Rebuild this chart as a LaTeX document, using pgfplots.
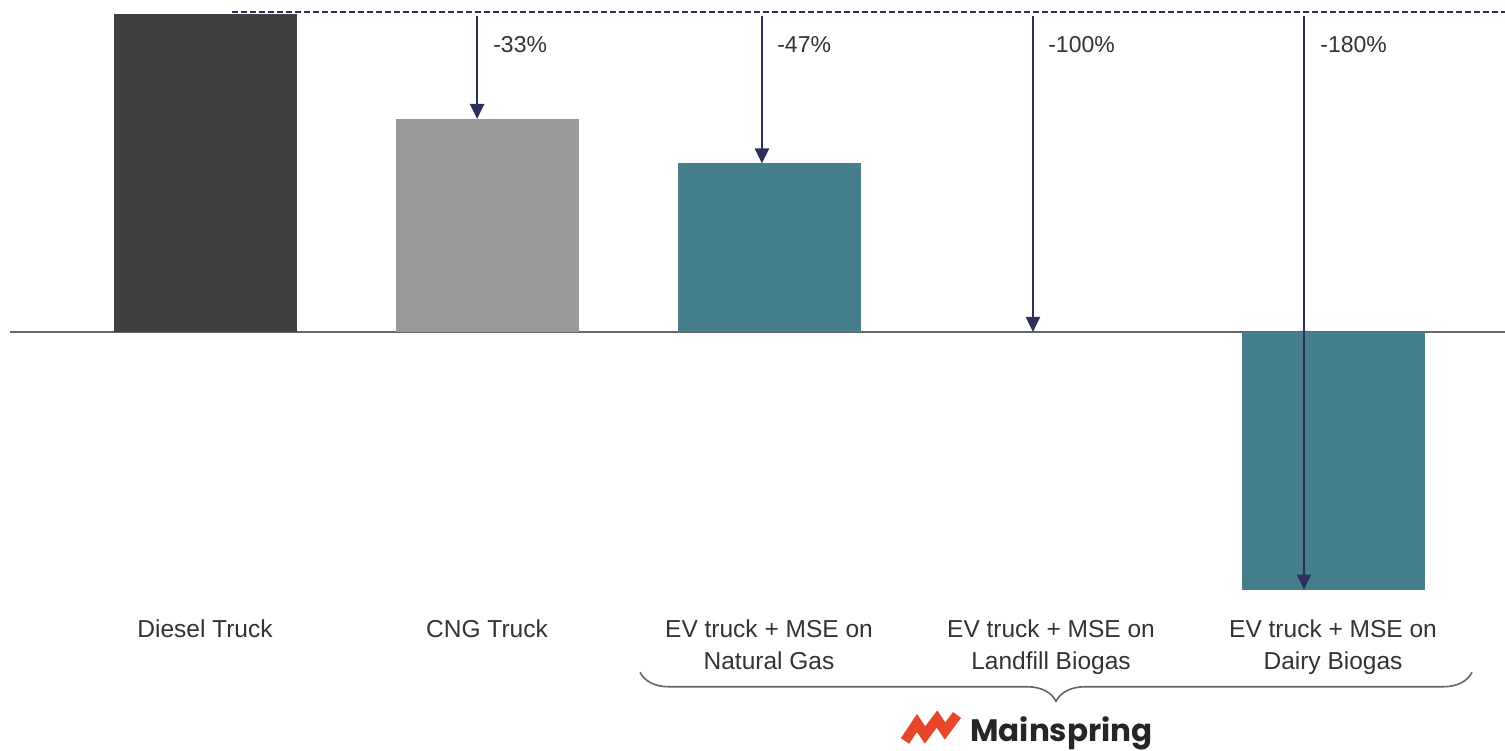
\documentclass[border=0pt]{standalone}
\usepackage{fontspec}
\setmainfont{Liberation Sans}
\newfontfamily\logofont{Poppins}
\usepackage{pgfplots}
\pgfplotsset{compat=1.18}
\usetikzlibrary{arrows.meta,decorations.pathreplacing}
\definecolor{diesel}{HTML}{404040}
\definecolor{cng}{HTML}{999999}
\definecolor{tealbar}{HTML}{457F8B}
\definecolor{navy}{HTML}{2D2F5C}
\definecolor{zline}{HTML}{666666}
\definecolor{logored}{HTML}{E8462A}
\definecolor{labtext}{HTML}{333333}
\begin{document}
\begin{tikzpicture}
\begin{axis}[
  scale only axis, width=752.5pt, height=300pt,
  xmin=-0.72695, xmax=4.60993, ymin=-84.28, ymax=104.40,
  axis line style={draw=none}, major tick length=0pt,
  ytick=\empty, xtick={0,1,2,3,4},
  xticklabels={Diesel Truck, CNG Truck, {EV truck + MSE on\\Natural Gas}, {EV truck + MSE on\\Landfill Biogas}, {EV truck + MSE on\\Dairy Biogas}},
  xticklabel style={anchor=north, inner sep=0pt, yshift=-9.5pt, align=center, font=\fontsize{12.25}{16}\selectfont, text=labtext},
  clip=false, bar width=91.5pt,
]
% zero line
\draw[zline, line width=1pt] (axis cs:-0.6915,0) -- (axis cs:4.60993,0);
% bars
\addplot[ybar, bar shift=0pt, fill=diesel, draw=none] coordinates {(0,100)};
\addplot[ybar, bar shift=0pt, fill=cng, draw=none] coordinates {(1,67)};
\addplot[ybar, bar shift=0pt, fill=tealbar, draw=none] coordinates {(2,53)};
\addplot[ybar, bar shift=0pt, fill=tealbar, draw=none] coordinates {(3,0)};
\addplot[ybar, bar shift=0pt, fill=tealbar, draw=none] coordinates {(4,-81)};
% dashed reference
\draw[navy, line width=0.6pt, dash pattern=on 3pt off 1.5pt] (axis cs:0.0957,100.6) -- (axis cs:4.60993,100.6);
% arrows
\draw[navy, line width=1.1pt, -{Triangle[length=7.5pt,width=7pt]}] (axis cs:0.965,99.4) -- (axis cs:0.965,67);
\draw[navy, line width=1.1pt, -{Triangle[length=7.5pt,width=7pt]}] (axis cs:1.975,99.4) -- (axis cs:1.975,53);
\draw[navy, line width=1.1pt, -{Triangle[length=7.5pt,width=7pt]}] (axis cs:2.936,99.4) -- (axis cs:2.936,0);
\draw[navy, line width=1.1pt, -{Triangle[length=7.5pt,width=7pt]}] (axis cs:3.897,99.4) -- (axis cs:3.897,-81);
% reduction labels
\node[anchor=west, inner sep=0pt, font=\fontsize{11.5}{13}\selectfont, text=labtext] at (axis cs:1.021,90.3) {-33\%};
\node[anchor=west, inner sep=0pt, font=\fontsize{11.5}{13}\selectfont, text=labtext] at (axis cs:2.028,90.3) {-47\%};
\node[anchor=west, inner sep=0pt, font=\fontsize{11.5}{13}\selectfont, text=labtext] at (axis cs:2.989,90.3) {-100\%};
\node[anchor=west, inner sep=0pt, font=\fontsize{11.5}{13}\selectfont, text=labtext] at (axis cs:3.954,90.3) {-180\%};
% brace
\draw[zline, line width=0.8pt, decorate, decoration={brace, mirror, amplitude=14.5pt, aspect=0.5}] (axis cs:1.5426,-107.0) -- (axis cs:4.493,-107.0);
% logo
\begin{scope}[shift={(axis cs:2.461,-130.5)}]
  \draw[logored, line width=5pt, line join=miter] (3pt,3pt) -- (9pt,12pt) -- (13pt,6pt) -- (19pt,14pt) -- (23pt,8pt) -- (29pt,16pt);
\end{scope}
\node[anchor=base west, inner sep=0pt, font=\logofont\bfseries\fontsize{15.5}{17}\selectfont, text=black!85] at (axis cs:2.7128,-128.8) {Mainspring};
\end{axis}
\pgfresetboundingbox
\useasboundingbox (current axis.north west) rectangle ([yshift=-375pt]current axis.north east);
\end{tikzpicture}
\end{document}
